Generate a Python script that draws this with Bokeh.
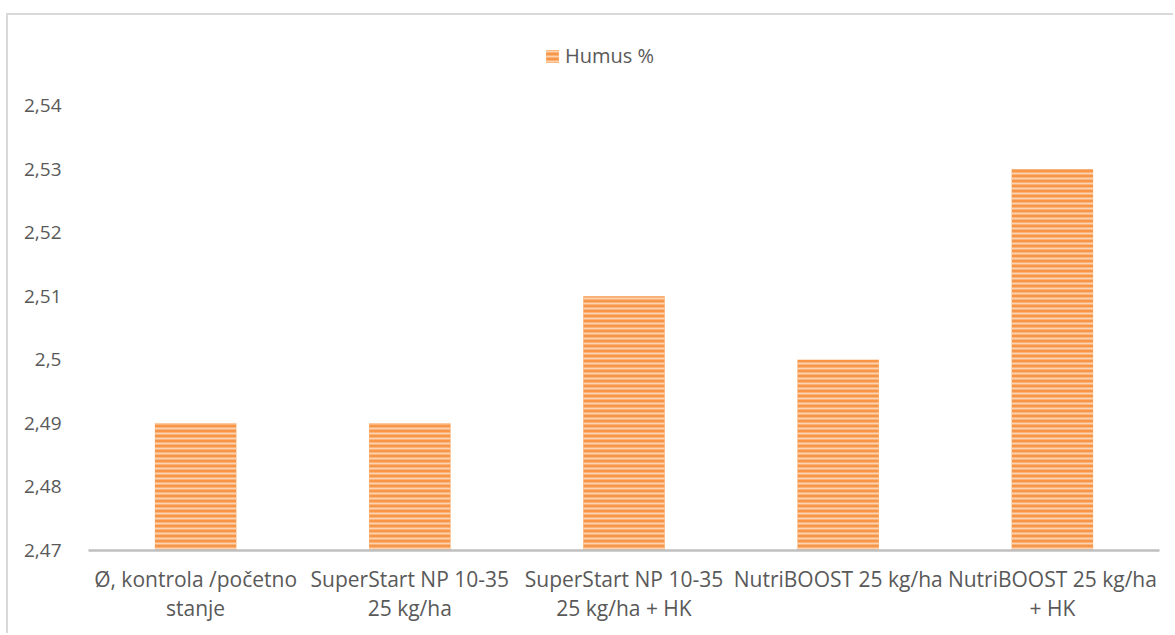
from bokeh.plotting import figure
from bokeh.models import ColumnDataSource, FixedTicker, CustomJSTickFormatter, Legend, LegendItem, Range1d
from bokeh.embed import file_html
from bokeh.resources import INLINE

categories = ["Ø, kontrola /početno\nstanje", "SuperStart NP 10-35\n25 kg/ha",
              "SuperStart NP 10-35\n25 kg/ha + HK", "NutriBOOST 25 kg/ha",
              "NutriBOOST 25 kg/ha\n+ HK"]
humus = [2.49, 2.49, 2.51, 2.50, 2.53]
y_ticks = [2.47, 2.48, 2.49, 2.50, 2.51, 2.52, 2.53, 2.54]
y_tick_labels = ["2,47", "2,48", "2,49", "2,5", "2,51", "2,52", "2,53", "2,54"]
series_name = "Humus %"

FONT = "Open Sans"
TXT = "#595959"
ORANGE = "#f79646"

# view range: the plotting frame extends above the last tick to leave room for the legend
y_view_max = 2.5518

src = ColumnDataSource(dict(cat=categories, val=humus, base=[y_ticks[0]] * len(humus)))

p = figure(x_range=categories, y_range=Range1d(y_ticks[0], y_view_max),
           width=1167, height=620, output_backend="svg", toolbar_location=None,
           min_border_left=80, min_border_right=16, min_border_top=15, min_border_bottom=85)
p.styles = {"border-top": "2px solid #d9d9d9", "border-left": "2px solid #d9d9d9",
            "margin-top": "13px", "margin-left": "6px"}
p.outline_line_color = None
p.grid.grid_line_color = None

r = p.vbar(x="cat", top="val", bottom="base", width=0.38, source=src,
           fill_color=ORANGE, line_color=None,
           hatch_pattern="horizontal_line", hatch_color="#fcd3b0",
           hatch_scale=5, hatch_weight=2)

p.yaxis.ticker = FixedTicker(ticks=y_ticks)
p.yaxis.formatter = CustomJSTickFormatter(args=dict(tvals=y_ticks, tlabs=y_tick_labels), code="""
let best = 0; let bd = 1e9;
for (let i = 0; i < tvals.length; i++) { const d = Math.abs(tvals[i] - tick); if (d < bd) { bd = d; best = i; } }
return tlabs[best];
""")
p.yaxis.axis_line_color = None
p.yaxis.major_tick_line_color = None
p.yaxis.minor_tick_line_color = None
p.yaxis.major_label_standoff = 21
p.yaxis.major_label_text_font = FONT
p.yaxis.major_label_text_font_size = "19px"
p.yaxis.major_label_text_color = TXT

p.xaxis.axis_line_color = "#bfbfbf"
p.xaxis.axis_line_width = 2.5
p.xaxis.major_tick_line_color = None
p.xaxis.minor_tick_line_color = None
p.xaxis.major_label_standoff = 8
p.xaxis.major_label_text_font = FONT
p.xaxis.major_label_text_font_size = "21px"
p.xaxis.major_label_text_line_height = 1.05
p.xaxis.major_label_text_color = TXT

legend = Legend(items=[LegendItem(label=series_name, renderers=[r])],
                location=(456, 481), orientation="horizontal",
                label_text_font=FONT, label_text_font_size="20px", label_text_color=TXT,
                glyph_width=16, glyph_height=16, label_standoff=5,
                padding=0, margin=0, border_line_color=None, background_fill_alpha=0)
p.add_layout(legend, "center")

open("out.html", "w").write(file_html(p, INLINE))
